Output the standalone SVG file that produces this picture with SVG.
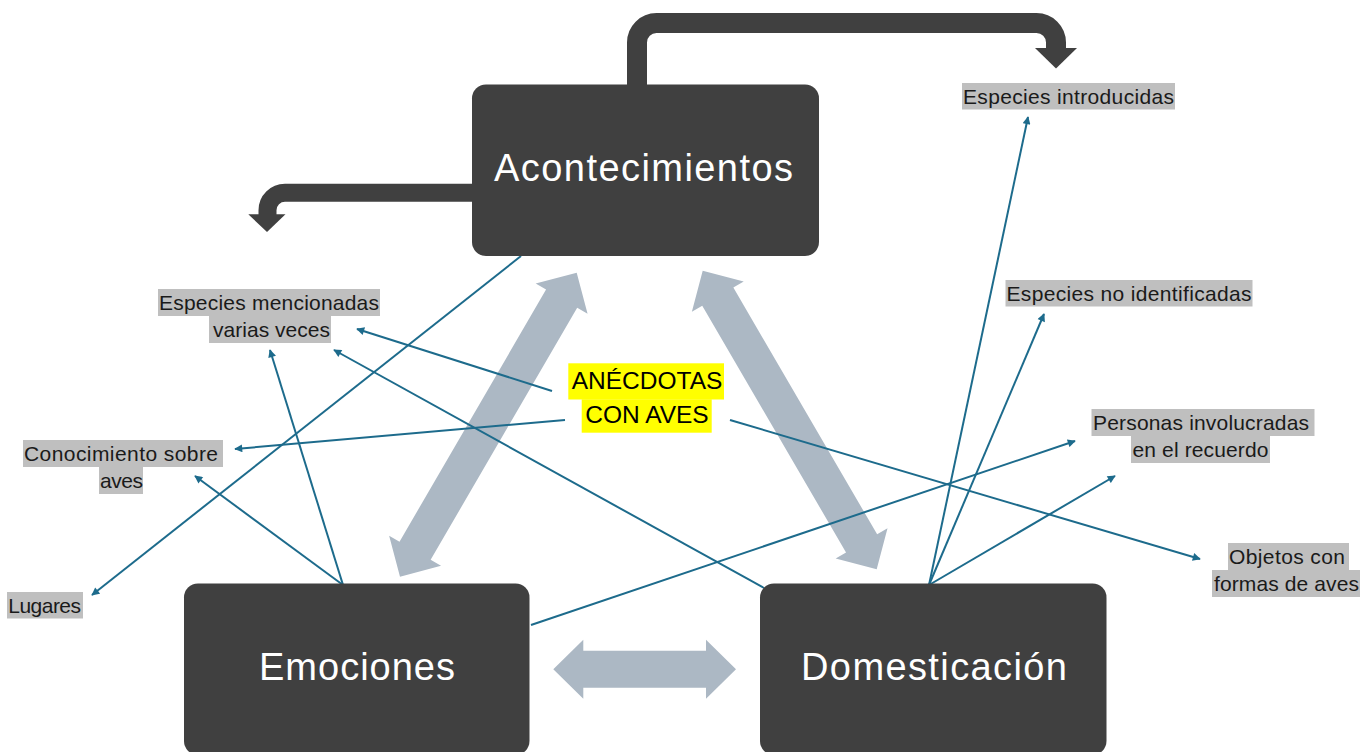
<svg xmlns="http://www.w3.org/2000/svg" width="1371" height="752" viewBox="0 0 1371 752">
<defs>
<marker id="ah" viewBox="0 0 10 10" refX="9" refY="5" markerWidth="10" markerHeight="8" markerUnits="userSpaceOnUse" orient="auto"><path d="M0,0 L10,5 L0,10 z" fill="#1d6b8c"/></marker>
<style>
.box{fill:#404040}
.title{font-family:"Liberation Sans",Arial,sans-serif;font-size:38px;fill:#ffffff}
.lbg{fill:#bfbfbf}
.lt{font-family:"Liberation Sans",Arial,sans-serif;font-size:21px;fill:#1a1a1a}
.center{font-family:"Liberation Sans",Arial,sans-serif;font-size:24.5px;fill:#000000;text-anchor:middle}
.link{stroke:#1d6b8c;stroke-width:2;fill:none;marker-end:url(#ah)}
.big{fill:#acb8c4}
.flow{stroke:#404040;stroke-width:20;fill:none}
.flowhead{fill:#404040}
</style>
</defs>
<rect x="0" y="0" width="1371" height="752" fill="#ffffff"/>

<g id="connectors">
  <polygon class="big" points="-175.8,0 -145.8,-30 -145.8,-18 145.8,-18 145.8,-30 175.8,0 145.8,30 145.8,18 -145.8,18 -145.8,30" transform="translate(488.35,424.7) rotate(-59.83)"/>
  <polygon class="big" points="-172.8,0 -142.8,-30 -142.8,-18 142.8,-18 142.8,-30 172.8,0 142.8,30 142.8,18 -142.8,18 -142.8,30" transform="translate(789.7,420) rotate(59.77)"/>
  <polygon class="big" points="553.3,669.3 583.3,639.8 583.3,650.8 706,650.8 706,639.8 736,669.3 706,698.8 706,687.8 583.3,687.8 583.3,698.8"/>

  <path class="flow" d="M637,86 V42.5 A19.5,19.5 0 0 1 656.5,23 H1036.5 A19.5,19.5 0 0 1 1056,42.5 V49"/>
  <polygon class="flowhead" points="1035,48 1077,48 1056,68.5"/>
  <path class="flow" style="stroke-width:18" d="M474,192.8 H285 A17.5,17.5 0 0 0 267.5,210.3 V215"/>
  <polygon class="flowhead" points="248.3,214.3 285.5,214.3 267,232"/>

  <line class="link" x1="521" y1="256" x2="92" y2="595"/>
  <line class="link" x1="343" y1="585" x2="270" y2="350"/>
  <line class="link" x1="343" y1="585" x2="195" y2="476"/>
  <line class="link" x1="552" y1="391" x2="357" y2="329"/>
  <line class="link" x1="764" y1="588" x2="334" y2="350"/>
  <line class="link" x1="565" y1="420" x2="235" y2="449"/>
  <line class="link" x1="531" y1="625" x2="1075" y2="441"/>
  <line class="link" x1="730" y1="420" x2="1200" y2="559"/>
  <line class="link" x1="929" y1="585" x2="1028" y2="117"/>
  <line class="link" x1="929" y1="585" x2="1044" y2="314"/>
  <line class="link" x1="929" y1="585" x2="1115" y2="476"/>
</g>

<g id="acontecimientos">
  <rect class="box" x="472" y="84.5" width="347" height="171.5" rx="14"/>
  <text class="title" x="494" y="181" textLength="299" lengthAdjust="spacing">Acontecimientos</text>
</g>
<g id="emociones">
  <rect class="box" x="184" y="583.5" width="345.5" height="171.5" rx="14"/>
  <text class="title" x="259" y="680" textLength="196" lengthAdjust="spacing">Emociones</text>
</g>
<g id="domesticacion">
  <rect class="box" x="760" y="583.5" width="346.5" height="171.5" rx="14"/>
  <text class="title" x="801" y="680" textLength="266" lengthAdjust="spacing">Domesticación</text>
</g>

<g id="anecdotas">
  <rect x="568.3" y="363.3" width="155.7" height="36.2" fill="#ffff00"/>
  <rect x="581.7" y="399.3" width="130" height="33.4" fill="#ffff00"/>
  <text class="center" x="647" y="389.3">ANÉCDOTAS</text>
  <text class="center" x="647" y="423.3">CON AVES</text>
</g>

<g id="especies-introducidas">
  <rect class="lbg" x="962" y="83" width="213" height="26.5"/>
  <text class="lt" x="963" y="104" textLength="211" lengthAdjust="spacing">Especies introducidas</text>
</g>
<g id="especies-no-identificadas">
  <rect class="lbg" x="1005.5" y="280" width="247" height="26.5"/>
  <text class="lt" x="1006.5" y="301" textLength="245" lengthAdjust="spacing">Especies no identificadas</text>
</g>
<g id="personas">
  <rect class="lbg" x="1091.5" y="409" width="223" height="27"/>
  <rect class="lbg" x="1131" y="436" width="139" height="27"/>
  <text class="lt" x="1093" y="430" textLength="216" lengthAdjust="spacing">Personas involucradas</text>
  <text class="lt" x="1132.5" y="457" textLength="136" lengthAdjust="spacing">en el recuerdo</text>
</g>
<g id="objetos">
  <rect class="lbg" x="1228" y="543" width="121" height="27"/>
  <rect class="lbg" x="1212" y="570" width="148" height="27"/>
  <text class="lt" x="1229" y="564" textLength="116" lengthAdjust="spacing">Objetos con</text>
  <text class="lt" x="1214" y="591" textLength="145" lengthAdjust="spacing">formas de aves</text>
</g>
<g id="especies-mencionadas">
  <rect class="lbg" x="158" y="289" width="222" height="27"/>
  <rect class="lbg" x="209" y="316" width="122" height="27"/>
  <text class="lt" x="159" y="310" textLength="220" lengthAdjust="spacing">Especies mencionadas</text>
  <text class="lt" x="213" y="337" textLength="117" lengthAdjust="spacing">varias veces</text>
</g>
<g id="conocimiento">
  <rect class="lbg" x="23" y="440" width="200" height="27"/>
  <rect class="lbg" x="99" y="467" width="44" height="27"/>
  <text class="lt" x="24" y="461" textLength="194" lengthAdjust="spacing">Conocimiento sobre</text>
  <text class="lt" x="100" y="488" textLength="43" lengthAdjust="spacing">aves</text>
</g>
<g id="lugares">
  <rect class="lbg" x="7" y="592" width="76" height="26.5"/>
  <text class="lt" x="8.3" y="613" textLength="72.7" lengthAdjust="spacing">Lugares</text>
</g>
</svg>
